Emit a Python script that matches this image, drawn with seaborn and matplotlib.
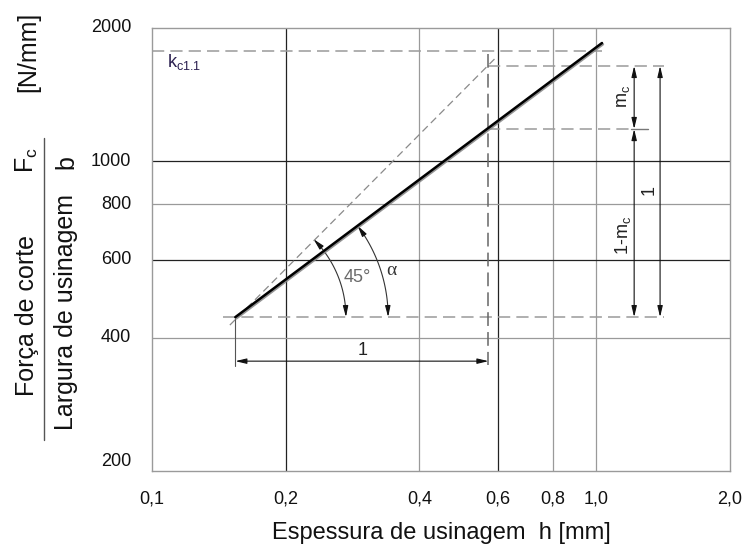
import numpy as np
import pandas as pd
import matplotlib
matplotlib.use("Agg")
import matplotlib.pyplot as plt
import matplotlib.transforms as mtransforms
import seaborn as sns
from matplotlib import patheffects as pe
from matplotlib.ticker import NullLocator
from matplotlib.lines import Line2D

# ---------------- data ----------------
x_ticks = [0.1, 0.2, 0.4, 0.6, 0.8, 1.0, 2.0]
x_tick_labels = ["0,1", "0,2", "0,4", "0,6", "0,8", "1,0", "2,0"]
y_ticks = [200, 400, 600, 800, 1000, 2000]
y_tick_labels = ["200", "400", "600", "800", "1000", "2000"]
grid_dark_x = [0.2, 0.6]
grid_light_x = [0.4, 0.8, 1.0]
grid_dark_y = [600, 1000]
grid_light_y = [400, 800]

main_h = [0.154, 1.03]          # Kienzle line  Fc/b = kc1.1 * h^(1-mc)
main_f = [445, 1850]
ref45_h = [0.1497, 0.590]       # 45 deg reference line
ref45_f = [427, 1702]
kc11 = 1775                     # kc1.1 level
h0, f_base = 0.154, 445         # start point
h_ref = 0.572                   # vertical construction line
f_top, f_mid = 1642, 1183
h_dim1, h_dim2 = 1.217, 1.392
f_dim = 354

# ---------------- figure ----------------
sns.set_theme(style="white")
plt.rcParams["font.family"] = ["Liberation Sans", "DejaVu Sans"]
plt.rcParams["mathtext.fontset"] = "custom"
plt.rcParams["mathtext.rm"] = "Liberation Sans"

W, H = 744, 554
fig = plt.figure(figsize=(W / 100, H / 100), dpi=100)
ax = fig.add_axes([152 / W, 1 - 471 / H, (730 - 152) / W, (471 - 28) / H])
ax.set_xscale("log")
ax.set_yscale("log")
ax.set_xlim(0.1, 2.0)
ax.set_ylim(200, 2000)
ax.xaxis.set_minor_locator(NullLocator())
ax.yaxis.set_minor_locator(NullLocator())
ax.set_xticks(x_ticks, x_tick_labels)
ax.set_yticks(y_ticks, y_tick_labels)
ax.tick_params(axis="x", length=0, pad=14, labelsize=13, colors="#111111")
ax.tick_params(axis="y", length=0, pad=15, labelsize=13, colors="#111111")
for s in ax.spines.values():
    s.set_color("#9a9a9a")
    s.set_linewidth(1)
ax.grid(False)

for x in grid_dark_x:
    ax.axvline(x, color="#222222", lw=0.9, zorder=1)
for x in grid_light_x:
    ax.axvline(x, color="#9a9a9a", lw=0.9, zorder=1)
for y in grid_dark_y:
    ax.axhline(y, color="#222222", lw=0.9, zorder=1)
for y in grid_light_y:
    ax.axhline(y, color="#9a9a9a", lw=0.9, zorder=1)

dash_kw = dict(color="#9a9a9a", lw=1.1, dashes=(8, 4), zorder=2)
# kc1.1 level
ax.plot([0.1, main_h[1]], [kc11, kc11], **dash_kw)
# construction dashed lines
ax.plot([h0 * 0.94, h_dim2 * 1.02], [f_base, f_base], **dash_kw)
ax.plot([h_ref, h_dim2 * 1.02], [f_top, f_top], **dash_kw)
ax.plot([h_ref, h_dim1 * 0.985], [f_mid, f_mid], **dash_kw)
ax.plot([h_dim1 * 0.985, h_dim2 * 0.94], [f_mid, f_mid], color="#777777", lw=1.0, zorder=2)
ax.plot([h_ref, h_ref], [1747, f_dim * 0.98], color="#666666", lw=1.1, dashes=(9, 4), zorder=2)
# 45 deg reference line
ax.plot(ref45_h, ref45_f, color="#8a8a8a", lw=0.9, dashes=(6, 3.5), zorder=2)

# main line
df = pd.DataFrame({"h": main_h, "kc": main_f})
sns.lineplot(data=df, x="h", y="kc", ax=ax, color="black", lw=1.8, zorder=5,
             path_effects=[pe.SimpleLineShadow(offset=(0.7, -0.9), shadow_color="#888888", alpha=0.9),
                           pe.Normal()])
ax.set_ylabel("")

akw = dict(arrowstyle="-|>,head_length=0.55,head_width=0.13", color="#111111", lw=0.8,
           shrinkA=0, shrinkB=0)
akw2 = dict(arrowstyle="<|-|>,head_length=0.55,head_width=0.13", color="#111111", lw=0.8,
            shrinkA=0, shrinkB=0)

# dimension lines
ax.annotate("", xy=(h_dim1, f_top), xytext=(h_dim1, f_mid), arrowprops=akw2)
ax.annotate("", xy=(h_dim1, f_mid), xytext=(h_dim1, f_base), arrowprops=akw2)
ax.annotate("", xy=(h_dim2, f_top), xytext=(h_dim2, f_base), arrowprops=akw2)
ax.annotate("", xy=(h0, f_dim), xytext=(h_ref, f_dim), arrowprops=akw2)
ax.plot([h0, h0], [f_base, f_dim * 0.975], color="#555555", lw=0.8, zorder=2)

# angle arcs
lx0, ly0 = np.log10(h0), np.log10(f_base)
def arc(r, a0, a1, n=60):
    t = np.linspace(a0, a1, n)
    return 10 ** (lx0 + r * np.cos(t)), 10 ** (ly0 + r * np.sin(t))

alpha = np.arctan(np.log10(main_f[1] / main_f[0]) / np.log10(main_h[1] / main_h[0]))
for r, a_end, col in [(0.249, np.pi / 4, "#333333"), (0.344, alpha, "#333333")]:
    xs, ys = arc(r, 0.06, a_end - 0.06)
    ax.plot(xs, ys, color=col, lw=0.8, zorder=3)
    xa, ya = arc(r, 0.0, 0.06, 2)
    ax.annotate("", xy=(xa[0], ya[0]), xytext=(xa[1], ya[1]), arrowprops=akw)
    xb, yb = arc(r, a_end - 0.06, a_end, 2)
    ax.annotate("", xy=(xb[1], yb[1]), xytext=(xb[0], yb[0]), arrowprops=akw)

# texts in plot
ax.text(0.2904, 548, "45°", fontsize=13, color="#6a6a6a", ha="center", va="center")
ax.text(0.346, 568, "α", fontsize=14, color="#333333", ha="center", va="center",
        family=["Liberation Serif", "DejaVu Serif"])
ax.text(0.298, 375, "1", fontsize=13, color="#222222", ha="center", va="center")
ax.text(1.15, 1398, r"m$_\mathregular{c}$", fontsize=13, rotation=90, color="#222222",
        ha="center", va="center")
ax.text(1.315, 862, "1", fontsize=13, rotation=90, color="#222222", ha="center", va="center")
ax.text(1.15, 682, r"1-m$_\mathregular{c}$", fontsize=13, rotation=90, color="#222222",
        ha="center", va="center")
ax.text(0.108, 1676, r"k$_\mathregular{c1.1}$", fontsize=13, color="#2b2050",
        ha="left", va="center")

# nudge tick labels slightly upward like the reference
for i, lab in enumerate(ax.get_yticklabels()):
    dy = 11 if y_ticks[i] == 200 else 2
    lab.set_transform(lab.get_transform() + mtransforms.ScaledTranslation(0, dy / 100, fig.dpi_scale_trans))

# x label
ax.set_xlabel("Espessura de usinagem  h [mm]", fontsize=17, color="#111111")
ax.xaxis.set_label_coords(0.5, -(533 - 471) / 443)
ax.xaxis.label.set_va("center")

# y label (fraction)
def fx(px):
    return px / W
def fy(py):
    return 1 - py / H
fig.text(fx(28), fy(52), "[N/mm]", rotation=90, fontsize=18, ha="center", va="center", color="#111111")
fig.text(fx(27), fy(160), r"F$_\mathregular{c}$", rotation=90, fontsize=18, ha="center", va="center", color="#111111")
fig.text(fx(27), fy(316), "Força de corte", rotation=90, fontsize=18, ha="center", va="center", color="#111111")
fig.text(fx(66), fy(162), "b", rotation=90, fontsize=18, ha="center", va="center", color="#111111")
fig.text(fx(66), fy(312), "Largura de usinagem", rotation=90, fontsize=18, ha="center", va="center", color="#111111")
fig.add_artist(Line2D([fx(44), fx(44)], [fy(138), fy(440)], color="#555555", lw=1))

fig.savefig("out.png", dpi=100)
